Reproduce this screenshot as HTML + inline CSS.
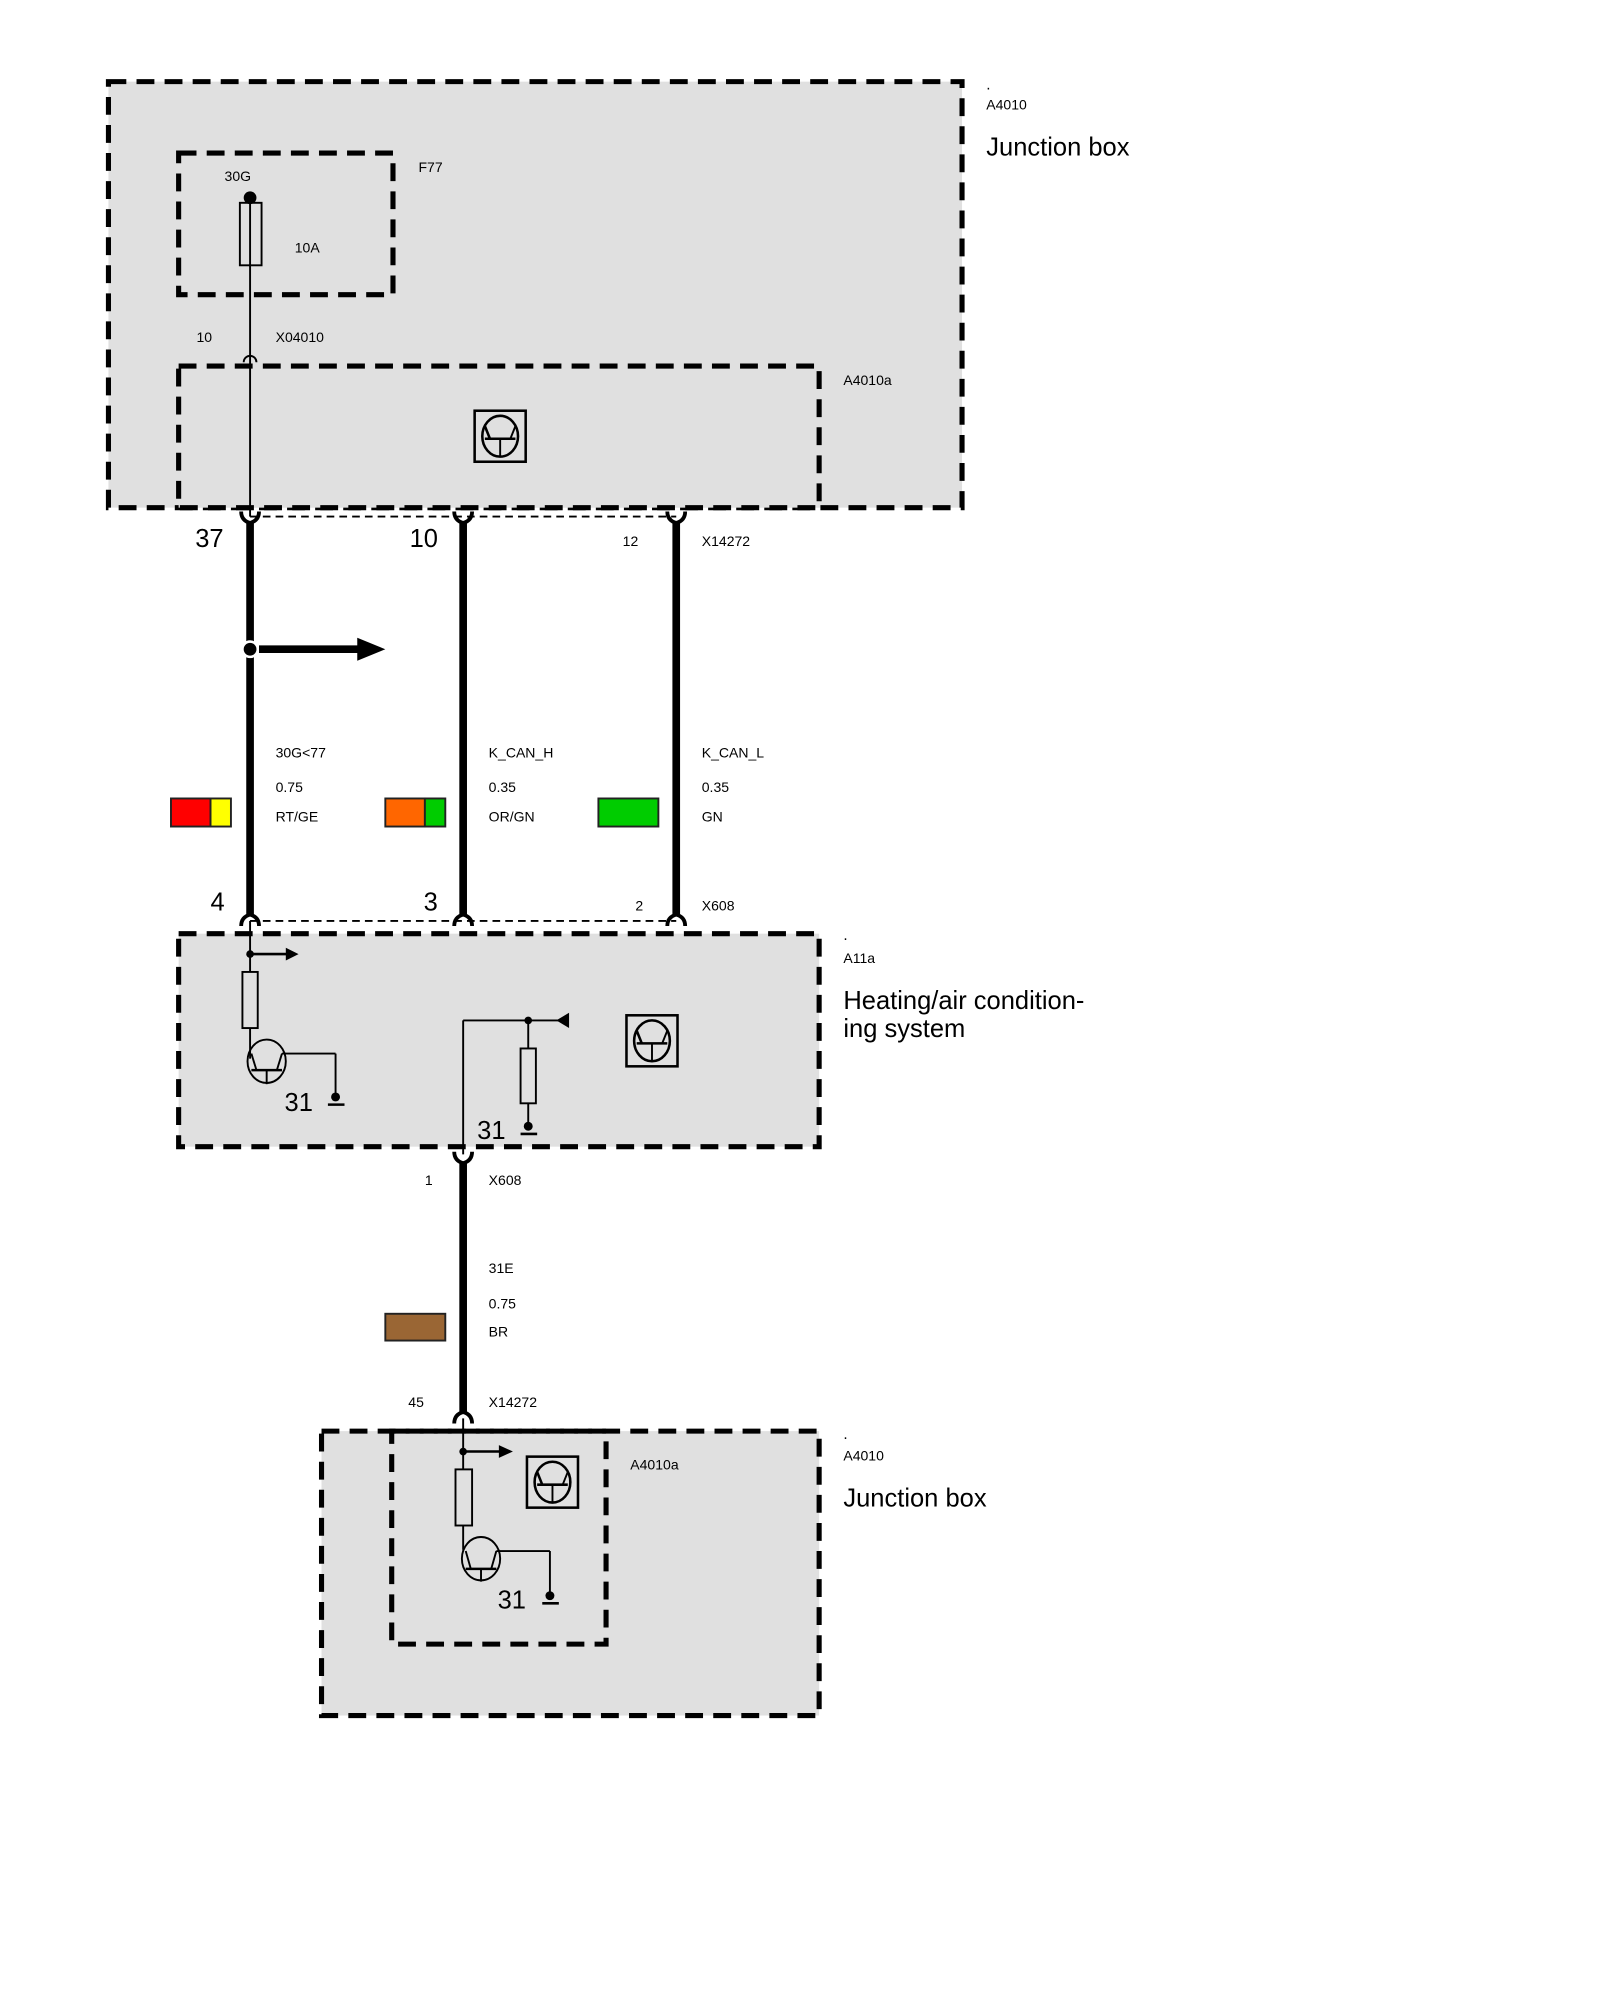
<!DOCTYPE html>
<html><head><meta charset="utf-8"><style>html,body{margin:0;padding:0;background:#fff}svg{display:block}text{font-family:"Liberation Sans",Arial,sans-serif;fill:#000}</style></head>
<body>
<svg width="1600" height="2000" viewBox="0 0 1254 1568" preserveAspectRatio="none" xmlns="http://www.w3.org/2000/svg">
<defs>
<g id="ic">
<rect x="0" y="0" width="40" height="40" fill="none" stroke="#000" stroke-width="2"/>
<ellipse cx="20" cy="20" rx="14" ry="16" fill="none" stroke="#000" stroke-width="2"/>
<line x1="8" y1="22" x2="32" y2="22" stroke="#000" stroke-width="2"/>
<line x1="20" y1="22" x2="20" y2="36" stroke="#000" stroke-width="1.5"/>
<line x1="8" y1="12" x2="12" y2="22" stroke="#000" stroke-width="2"/>
<line x1="32" y1="12" x2="28" y2="22" stroke="#000" stroke-width="1.5"/>
</g>
</defs>
<g stroke="#000" stroke-width="4" stroke-dasharray="14 8" fill="#e0e0e0">
<rect x="85" y="64" width="669" height="334"/>
<rect x="140" y="120" width="168" height="111"/>
<rect x="140" y="287" width="502" height="111"/>
<rect x="140" y="732" width="502" height="167"/>
<rect x="252" y="1122" width="390" height="223"/>
<rect x="307" y="1122" width="168" height="167" fill="none"/>
</g>
<circle cx="196" cy="155" r="5"/>
<rect x="188" y="159" width="17" height="49" fill="none" stroke="#000" stroke-width="1.5"/>
<line x1="196" y1="155" x2="196" y2="405" stroke="#000" stroke-width="1.5"/>
<path d="M191 284 A5 5 0 0 1 201 284" fill="none" stroke="#000" stroke-width="1.5"/>
<use href="#ic" x="372" y="322"/>
<text x="176" y="142" font-size="11">30G</text>
<text x="328" y="135" font-size="11">F77</text>
<text x="231" y="198" font-size="11">10A</text>
<text x="154" y="268" font-size="11">10</text>
<text x="216" y="268" font-size="11">X04010</text>
<text x="661" y="302" font-size="11">A4010a</text>
<text x="773" y="70" font-size="12">.</text>
<text x="773" y="86" font-size="11">A4010</text>
<text x="773" y="122" font-size="20">Junction box</text>
<line x1="196" y1="405" x2="530" y2="405" stroke="#000" stroke-width="1.5" stroke-dasharray="6 4"/>
<g fill="none" stroke="#000" stroke-width="3">
<path d="M189 401 Q189 408 196 410 Q203 408 203 401"/>
<path d="M356 401 Q356 408 363 410 Q370 408 370 401"/>
<path d="M523 401 Q523 408 530 410 Q537 408 537 401"/>
<path d="M189 726 Q189 719 196 717 Q203 719 203 726"/>
<path d="M356 726 Q356 719 363 717 Q370 719 370 726"/>
<path d="M523 726 Q523 719 530 717 Q537 719 537 726"/>
<path d="M356 903 Q356 910 363 912 Q370 910 370 903"/>
<path d="M356 1116 Q356 1109 363 1107 Q370 1109 370 1116"/>
</g>
<line x1="196" y1="722" x2="530" y2="722" stroke="#000" stroke-width="1.5" stroke-dasharray="6 4"/>
<g stroke="#000" stroke-width="6">
<line x1="196" y1="409" x2="196" y2="718"/>
<line x1="363" y1="409" x2="363" y2="718"/>
<line x1="530" y1="409" x2="530" y2="718"/>
<line x1="363" y1="911" x2="363" y2="1108"/>
</g>
<circle cx="196" cy="509" r="6" fill="#000" stroke="#fff" stroke-width="2"/>
<line x1="203" y1="509" x2="285" y2="509" stroke="#000" stroke-width="6"/>
<polygon points="280,500 302,509 280,518" fill="#000"/>
<text x="153" y="429" font-size="20">37</text>
<text x="321" y="429" font-size="20">10</text>
<text x="488" y="428" font-size="11">12</text>
<text x="550" y="428" font-size="11">X14272</text>
<text x="216" y="594" font-size="11">30G&lt;77</text>
<text x="216" y="621" font-size="11">0.75</text>
<text x="216" y="644" font-size="11">RT/GE</text>
<text x="383" y="594" font-size="11">K_CAN_H</text>
<text x="383" y="621" font-size="11">0.35</text>
<text x="383" y="644" font-size="11">OR/GN</text>
<text x="550" y="594" font-size="11">K_CAN_L</text>
<text x="550" y="621" font-size="11">0.35</text>
<text x="550" y="644" font-size="11">GN</text>
<g stroke="#222" stroke-width="1.5">
<rect x="134" y="626" width="31" height="22" fill="#f00"/>
<rect x="165" y="626" width="16" height="22" fill="#ff0"/>
<rect x="302" y="626" width="31" height="22" fill="#f60"/>
<rect x="333" y="626" width="16" height="22" fill="#0c0"/>
<rect x="469" y="626" width="47" height="22" fill="#0c0"/>
<rect x="302" y="1030" width="47" height="21" fill="#9a6634"/>
</g>
<text x="165" y="714" font-size="20">4</text>
<text x="332" y="714" font-size="20">3</text>
<text x="498" y="714" font-size="11">2</text>
<text x="550" y="714" font-size="11">X608</text>
<text x="661" y="737" font-size="12">.</text>
<text x="661" y="755" font-size="11">A11a</text>
<text x="661" y="791" font-size="20">Heating/air condition-</text>
<text x="661" y="813" font-size="20">ing system</text>
<g stroke="#000" stroke-width="1.5" fill="none">
<line x1="196" y1="722" x2="196" y2="762"/>
<rect x="190" y="762" width="12" height="44"/>
<line x1="196" y1="806" x2="196" y2="830"/>
<ellipse cx="209" cy="832" rx="15" ry="17"/>
<line x1="197" y1="839" x2="221" y2="839" stroke-width="2"/>
<line x1="209" y1="839" x2="209" y2="850"/>
<line x1="197" y1="826" x2="201" y2="839"/>
<line x1="221" y1="826" x2="217" y2="839"/>
<line x1="221" y1="826" x2="263" y2="826"/>
<line x1="263" y1="826" x2="263" y2="862"/>
<line x1="196" y1="748" x2="225" y2="748" stroke-width="2"/>
<line x1="363" y1="905" x2="363" y2="800"/>
<line x1="363" y1="800" x2="440" y2="800"/>
<line x1="414" y1="800" x2="414" y2="822"/>
<rect x="408" y="822" width="12" height="43"/>
<line x1="414" y1="865" x2="414" y2="884"/>
</g>
<circle cx="196" cy="748" r="3"/>
<polygon points="224,743 234,748 224,753"/>
<circle cx="263" cy="860" r="3.5"/><line x1="257" y1="866" x2="270" y2="866" stroke="#000" stroke-width="2"/>
<circle cx="414" cy="800" r="3"/>
<polygon points="446,794 436,800 446,806"/>
<circle cx="414" cy="883" r="3.5"/><line x1="408" y1="889" x2="421" y2="889" stroke="#000" stroke-width="2"/>
<text x="223" y="871" font-size="20">31</text>
<text x="374" y="893" font-size="20">31</text>
<use href="#ic" x="491" y="796"/>
<text x="333" y="929" font-size="11">1</text>
<text x="383" y="929" font-size="11">X608</text>
<text x="383" y="998" font-size="11">31E</text>
<text x="383" y="1026" font-size="11">0.75</text>
<text x="383" y="1048" font-size="11">BR</text>
<text x="320" y="1103" font-size="11">45</text>
<text x="383" y="1103" font-size="11">X14272</text>
<text x="661" y="1128" font-size="12">.</text>
<text x="661" y="1145" font-size="11">A4010</text>
<text x="661" y="1181" font-size="20">Junction box</text>
<text x="494" y="1152" font-size="11">A4010a</text>
<g stroke="#000" stroke-width="1.5" fill="none">
<line x1="363" y1="1112" x2="363" y2="1152"/>
<rect x="357" y="1152" width="13" height="44"/>
<line x1="363" y1="1196" x2="363" y2="1215"/>
<ellipse cx="377" cy="1222" rx="15" ry="17"/>
<line x1="365" y1="1230" x2="389" y2="1230" stroke-width="2"/>
<line x1="377" y1="1230" x2="377" y2="1240"/>
<line x1="365" y1="1216" x2="369" y2="1230"/>
<line x1="389" y1="1216" x2="385" y2="1230"/>
<line x1="389" y1="1216" x2="431" y2="1216"/>
<line x1="431" y1="1216" x2="431" y2="1252"/>
<line x1="363" y1="1138" x2="392" y2="1138" stroke-width="2"/>
</g>
<circle cx="363" cy="1138" r="3"/>
<polygon points="391,1133 402,1138 391,1143"/>
<circle cx="431" cy="1251" r="3.5"/><line x1="425" y1="1257" x2="438" y2="1257" stroke="#000" stroke-width="2"/>
<text x="390" y="1261" font-size="20">31</text>
<use href="#ic" x="413" y="1142"/>
</svg>
</body></html>
